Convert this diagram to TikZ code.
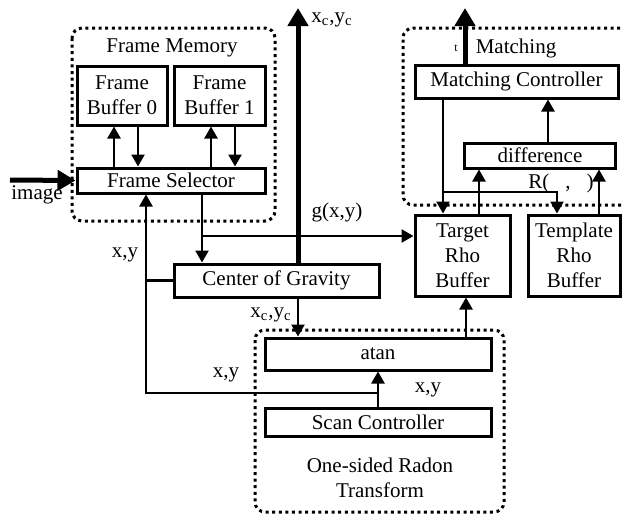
\documentclass[tikz,border=0pt]{standalone}
\usepackage{fontspec}
\setmainfont{Liberation Serif}
\usepackage{tikz}
\usetikzlibrary{arrows.meta, positioning, calc}
\tikzset{
  block/.style={draw, line width=1.5pt, align=center, inner sep=1pt},
  group/.style={draw, line width=1.5pt, dash pattern=on 1.5pt off 1.8pt, rounded corners=5pt},
  conn/.style={line width=1.25pt, -{Triangle[length=6pt, width=6.5pt]}},
  bigconn/.style={line width=2.5pt, -{Triangle[length=9pt, width=10pt]}},
}

\begin{document}
\begin{tikzpicture}[x=0.5pt, y=-0.5pt, font=\fontsize{10.5}{12.5}\selectfont]
  \useasboundingbox (0,0) rectangle (623,514);

  % Frame memory
  \draw[group] (72,28) rectangle (275,221);
  \node (fmlabel) at (172,48) {Frame Memory};
  \node[block, minimum width=45pt, minimum height=29.5pt] (fb0) at (122,95.5) {Frame\\Buffer 0};
  \node[block, minimum width=45.5pt, minimum height=29.5pt] (fb1) at (219.5,95.5) {Frame\\Buffer 1};
  \node[block, minimum width=94pt, minimum height=12.5pt] (fs) at (171,180.5) {Frame Selector};

  % Center of gravity
  \node[block, minimum width=102.5pt, minimum height=16.5pt] (cog) at (276.5,280.5) {Center of Gravity};

  % One-sided Radon transform
  \draw[group] (255,330) rectangle (504,512);
  \node[block, minimum width=113pt, minimum height=16pt] (atan) at (378,354) {atan};
  \node[block, minimum width=113pt, minimum height=14pt] (scan) at (378,422) {Scan Controller};
  \node[align=center] (radonlabel) at (380,478) {One-sided Radon\\Transform};

  % Rho buffers
  \node[block, minimum width=47.5pt, minimum height=40.5pt] (trb) at (462.5,255.5) {Target\\Rho\\Buffer};
  \node[block, minimum width=46pt, minimum height=40.5pt] (tpl) at (574,255.5) {Template\\Rho\\Buffer};

  % Matching
  \draw[group] (640,28) -- (403,28) -- (403,205) -- (640,205);
  \node (matchlabel) at (516,48) {Matching};
  \node[font=\fontsize{6}{7}\selectfont] (tlabel) at (456,48) {t};
  \node[block, minimum width=101.5pt, minimum height=16.5pt] (mc) at (516.5,81.5) {Matching Controller};
  \node[block, minimum width=75.5pt, minimum height=12.5pt] (diff) at (540,155.5) {difference};
  \node (rlabel) at (561,183) {R(\hspace{8pt},\hspace{8pt})};

  % Junction points
  \coordinate (imgin) at (10,180);
  \coordinate (gsplit) at (202,236);
  \coordinate (xcout) at (298,8);
  \coordinate (xyleft) at (146,393);
  \coordinate (tout) at (465,8);
  \coordinate (mcdown) at (443,192);
  \coordinate (tplin) at (557,192);

  % Frame memory connectors
  \draw[bigconn] (imgin) -- (fs.west);
  \node[anchor=base] (imglabel) at (37,199) {image};
  \draw[conn] ([xshift=-4pt]fb0.south |- fs.north) -- ([xshift=-4pt]fb0.south);
  \draw[conn] ([xshift=8pt]fb0.south) -- ([xshift=8pt]fb0.south |- fs.north);
  \draw[conn] ([xshift=-4.25pt]fb1.south |- fs.north) -- ([xshift=-4.25pt]fb1.south);
  \draw[conn] ([xshift=7.75pt]fb1.south) -- ([xshift=7.75pt]fb1.south |- fs.north);

  % Image data and centre
  \draw[conn] (gsplit |- fs.south) -- (gsplit |- cog.north);
  \draw[conn] (gsplit) -- (gsplit -| trb.west);
  \node (glabel) at (337,212) {g(x,y)};
  \draw[bigconn] (xcout |- cog.north) -- (xcout);
  \node (xclabel) at (332,20) {x\textsubscript{c},y\textsubscript{c}};
  \draw[conn] (xcout |- cog.south) -- (xcout |- atan.north);
  \node (xclabel2) at (271,315) {x\textsubscript{c},y\textsubscript{c}};

  % Scan addresses
  \draw[conn] (scan.north) -- (atan.south);
  \draw[conn] (atan.south |- xyleft) -- (xyleft) -- (xyleft |- fs.south);
  \draw[line width=1.25pt] (xyleft |- cog.west) -- (cog.west);
  \node (xylabel1) at (125,255) {x,y};
  \node (xylabel2) at (226,375) {x,y};
  \node (xylabel3) at (428,390) {x,y};

  % Radon to buffers and matching
  \draw[conn] ([xshift=1.75pt]trb.south |- atan.north) -- ([xshift=1.75pt]trb.south);
  \draw[bigconn] (tout |- mc.north) -- (tout);
  \draw[conn] ([xshift=4pt]diff.north) -- ([xshift=4pt]diff.north |- mc.south);
  \draw[conn] (mcdown |- mc.south) -- (mcdown |- trb.north);
  \draw[conn] (mcdown) -- (tplin) -- (tplin |- tpl.north);
  \draw[conn] ([xshift=8.25pt]trb.north) -- ([xshift=8.25pt]trb.north |- diff.south);
  \draw[conn] ([xshift=12.5pt]tpl.north) -- ([xshift=12.5pt]tpl.north |- diff.south);
\end{tikzpicture}
\end{document}
